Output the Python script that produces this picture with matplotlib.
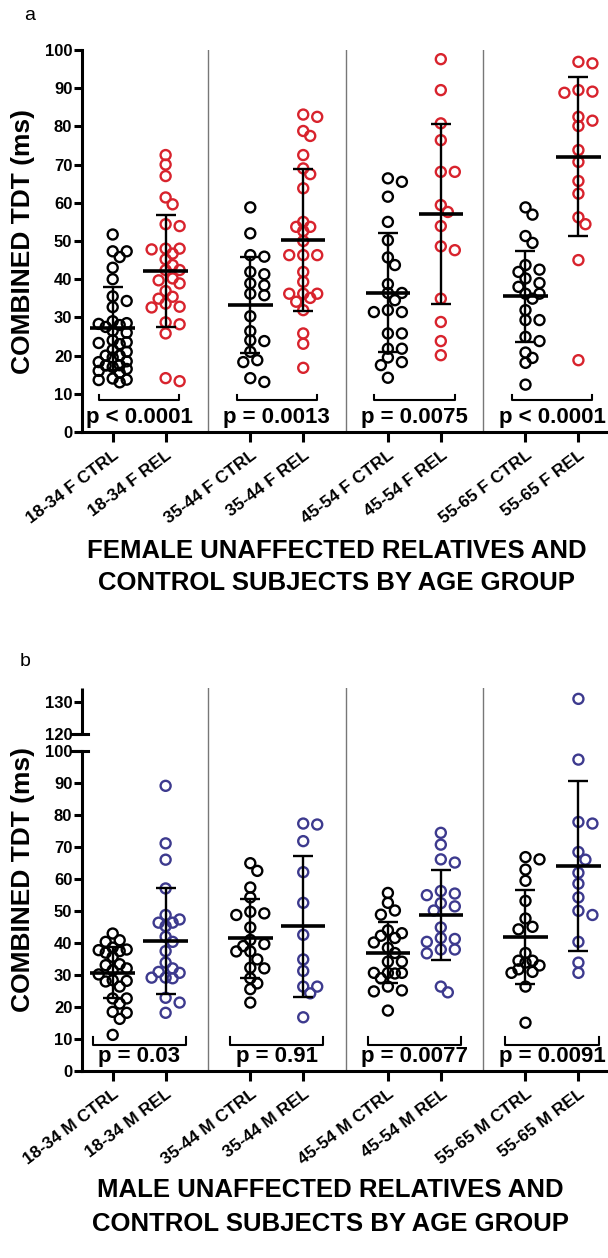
import matplotlib
matplotlib.use("Agg")
import matplotlib.pyplot as plt
import numpy as np

plt.rcParams['font.family'] = ['Liberation Sans', 'DejaVu Sans']
plt.rcParams['font.weight'] = 'bold'

# ---- data ----
female_labels = ["18-34 F CTRL", "18-34 F REL", "35-44 F CTRL", "35-44 F REL",
                 "45-54 F CTRL", "45-54 F REL", "55-65 F CTRL", "55-65 F REL"]
male_labels = ["18-34 M CTRL", "18-34 M REL", "35-44 M CTRL", "35-44 M REL",
               "45-54 M CTRL", "45-54 M REL", "55-65 M CTRL", "55-65 M REL"]

f_ctrl_18 = [51.7, 47.3, 47.3, 45.8, 43.0, 40.0, 35.5, 34.3, 32.7, 29.0, 28.5, 28.3, 28.0,
             27.5, 26.5, 26.0, 24.0, 23.5, 23.3, 23.0, 21.5, 21.0, 20.0, 20.0, 19.5, 18.5,
             18.3, 17.5, 17.4, 17.0, 16.5, 16.0, 15.5, 14.0, 13.7, 13.6, 13.0]
f_rel_18 = [72.5, 70.0, 67.0, 61.4, 59.6, 54.4, 53.9, 48.0, 47.8, 48.0, 46.7, 45.2, 43.7,
            42.4, 42.4, 40.2, 39.7, 38.9, 36.9, 35.4, 34.9, 33.6, 32.8, 32.6, 28.7, 28.2,
            25.8, 14.1, 13.3]
f_ctrl_35 = [58.8, 52.0, 46.3, 45.9, 41.9, 41.3, 38.9, 38.4, 36.2, 35.8, 30.3, 26.4, 24.0,
             23.8, 21.0, 18.8, 18.3, 14.1, 13.1]
f_rel_35 = [83.1, 82.5, 78.8, 77.5, 72.5, 69.0, 67.5, 63.8, 55.0, 53.7, 53.7, 52.6, 50.0,
            46.3, 46.3, 46.3, 41.9, 39.3, 36.2, 36.2, 36.2, 35.1, 34.1, 31.9, 25.8, 23.1, 16.8]
f_ctrl_45 = [66.4, 65.5, 61.6, 55.0, 50.2, 45.7, 43.7, 38.7, 36.4, 36.4, 34.5, 31.9, 31.4,
             31.4, 25.8, 25.8, 21.8, 21.8, 19.5, 18.3, 17.5, 14.2]
f_rel_45 = [97.6, 89.5, 80.8, 76.4, 68.1, 68.1, 59.4, 57.6, 53.9, 48.6, 47.6, 34.9, 28.8,
            23.8, 20.1]
f_ctrl_55 = [58.8, 56.9, 51.3, 49.5, 43.7, 42.5, 41.9, 40.2, 39.0, 38.0, 36.2, 36.2, 34.9,
             31.9, 29.3, 29.3, 24.9, 23.8, 20.8, 19.4, 18.1, 12.4]
f_rel_55 = [96.9, 96.5, 89.5, 89.1, 88.8, 82.5, 81.5, 80.1, 73.8, 70.7, 65.7, 62.4, 56.2,
            54.4, 45.0, 18.8]
f_means = [27.1, 42.2, 33.2, 50.2, 36.5, 57.0, 35.5, 72.1]
f_sds = [10.9, 14.7, 12.6, 18.6, 15.6, 23.6, 12.0, 20.8]
f_pvals = ["p < 0.0001", "p = 0.0013", "p = 0.0075", "p < 0.0001"]

m_ctrl_18 = [43.0, 40.9, 40.4, 38.6, 38.0, 37.8, 37.5, 37.0, 35.7, 33.4, 33.1, 32.1, 31.5,
             30.2, 28.4, 28.2, 28.0, 26.4, 22.7, 22.7, 21.1, 18.5, 18.2, 16.3, 11.3]
m_rel_18 = [89.2, 71.2, 66.1, 57.1, 48.8, 47.4, 46.4, 46.4, 45.3, 42.0, 40.4, 37.5, 33.9,
            32.1, 31.0, 30.7, 29.2, 29.2, 29.0, 22.9, 21.4, 18.2]
m_ctrl_35 = [65.0, 62.6, 57.4, 54.3, 49.8, 49.3, 48.8, 44.9, 41.0, 39.7, 39.1, 37.4, 37.4,
             34.9, 32.3, 32.1, 29.0, 27.4, 25.6, 21.4]
m_rel_35 = [77.4, 77.1, 71.9, 62.2, 52.6, 42.6, 34.9, 31.3, 26.4, 26.4, 24.3, 16.8]
m_ctrl_45 = [55.7, 52.6, 50.2, 48.9, 44.0, 43.1, 42.3, 41.6, 40.2, 38.5, 36.9, 34.2, 34.2,
             30.7, 30.7, 30.7, 30.5, 29.0, 26.4, 25.2, 24.9, 18.9]
m_rel_45 = [74.5, 70.8, 66.2, 65.2, 56.3, 55.5, 55.0, 52.5, 51.5, 50.2, 44.9, 41.6, 41.3,
            40.4, 38.0, 38.0, 36.8, 26.4, 24.6]
m_ctrl_55 = [66.9, 66.2, 63.0, 59.5, 53.2, 47.7, 45.1, 44.3, 36.9, 34.5, 34.5, 33.9, 33.0,
             31.8, 31.0, 30.7, 26.4, 15.1]
m_rel_55 = [131.1, 97.4, 77.9, 77.4, 68.5, 66.1, 62.0, 58.6, 54.3, 50.1, 48.8, 40.4, 33.9,
            30.7]
m_means = [30.8, 40.7, 41.5, 45.3, 37.0, 48.8, 42.0, 64.1]
m_sds = [8.1, 16.6, 12.3, 22.1, 9.6, 14.0, 14.7, 26.5]
m_pvals = ["p = 0.03", "p = 0.91", "p = 0.0077", "p = 0.0091"]

female_groups = [f_ctrl_18, f_rel_18, f_ctrl_35, f_rel_35, f_ctrl_45, f_rel_45, f_ctrl_55, f_rel_55]
male_groups = [m_ctrl_18, m_rel_18, m_ctrl_35, m_rel_35, m_ctrl_45, m_rel_45, m_ctrl_55, m_rel_55]

RED = '#d8232d'
BLUE = '#3d3a8e'
W, H = 608, 1258
pos = np.array([0, 1, 2.6, 3.6, 5.2, 6.2, 7.8, 8.8])


def swarm(ax, vals, x0, dmin=8.5, step=7.0, maxk=2):
    # greedy beeswarm in pixel space, limited to a few columns either side
    tr = ax.transData
    placed = []
    out = np.zeros(len(vals))
    px0 = tr.transform((x0, 0))[0]
    order = np.argsort(vals)[::-1]
    cands = [0]
    for k in range(1, maxk + 1):
        cands += [k * step, -k * step]
    for i in order:
        py = tr.transform((x0, vals[i]))[1]
        best, bestd = 0, -1
        for off in cands:
            d = min([np.hypot(px0 + off - qx, py - qy) for qx, qy in placed] or [99])
            if d >= dmin:
                best = off
                break
            if d > bestd:
                best, bestd = off, d
        placed.append((px0 + best, py))
        out[i] = tr.inverted().transform((px0 + best, py))[0]
    return out


def fwd(y):
    y = np.asarray(y, float)
    return np.where(y <= 100, y, np.where(y >= 120, y - 14.7, 100 + (y - 100) * 0.265))


def inv(t):
    t = np.asarray(t, float)
    return np.where(t <= 100, t, np.where(t >= 105.3, t + 14.7, 100 + (t - 100) / 0.265))


def panel(ax, groups, means, sds, pvals, labels, color, ytop, brk_y, p_y, hw):
    ax.set_xlim(-0.58, 9.34)
    ax.set_ylim(0, ytop)
    for s in ['top', 'right']:
        ax.spines[s].set_visible(False)
    for s in ['left', 'bottom']:
        ax.spines[s].set_linewidth(2.2)
    for sep in [(pos[1] + pos[2]) / 2, (pos[3] + pos[4]) / 2, (pos[5] + pos[6]) / 2]:
        ax.plot([sep, sep], [0, ytop], color='#777777', lw=1.0, zorder=1)
    for i, vals in enumerate(groups):
        c = 'black' if i % 2 == 0 else color
        xs = swarm(ax, vals, pos[i])
        ax.scatter(xs, vals, s=52, facecolors='none', edgecolors=c, linewidths=1.7, zorder=2,
                   clip_on=False)
    ax.errorbar(pos, means, yerr=sds, fmt='none', ecolor='black', elinewidth=1.7,
                capsize=7, capthick=1.7, zorder=4)
    ax.hlines(means, pos - 0.42, pos + 0.42, colors='black', lw=2.6, zorder=4)
    for j, p in enumerate(pvals):
        cx = (pos[2 * j] + pos[2 * j + 1]) / 2
        ax.plot([cx - hw, cx - hw, cx + hw, cx + hw],
                [brk_y[1], brk_y[0], brk_y[0], brk_y[1]], color='black', lw=1.5)
        ax.text(cx, p_y, p, ha='center', va='center', fontsize=16, fontweight='bold')
    ax.set_xticks(pos)
    ax.set_xticklabels(labels, rotation=37, ha='right', va='top', rotation_mode='anchor',
                       fontsize=12.5, fontweight='bold')
    ax.tick_params(axis='x', length=7, width=2.2, pad=4)
    ax.tick_params(axis='y', length=6, width=2.2, labelsize=12, pad=1)
    for t in ax.get_yticklabels():
        t.set_fontweight('bold')


fig = plt.figure(figsize=(W / 100, H / 100), dpi=100)

ax_a = fig.add_axes([82 / W, 1 - 432 / H, (607 - 82) / W, (432 - 50) / H])
ax_a.set_yticks(range(0, 101, 10))
panel(ax_a, female_groups, f_means, f_sds, f_pvals, female_labels, RED, 100, (8.3, 9.7), 3.9, 0.76)

ax_b = fig.add_axes([82 / W, 1 - 1071 / H, (607 - 82) / W, (1071 - 688) / H])
ax_b.set_yscale('function', functions=(fwd, inv))
ax_b.set_yticks(list(range(0, 101, 10)) + [120, 130])
ax_b.set_ylim(0, 134.5)
panel(ax_b, male_groups, m_means, m_sds, m_pvals, male_labels, BLUE, 134.5, (8.1, 10.6), 4.4, 0.88)
ax_b.set_ylim(0, 134.5)
# broken y axis
ax_b.spines['left'].set_bounds(0, 100)
yt = ax_b.get_yaxis_transform()
ax_b.plot([0, 0], [120, 134.5], transform=yt, color='black', lw=2.2, clip_on=False,
          solid_capstyle='butt')
for yb in (100, 120):
    ax_b.plot([-0.019, 0.012], [yb, yb], transform=yt, color='black', lw=2.2, clip_on=False)

# axis titles and labels
fig.text(23 / W, 1 - 241 / H, "COMBINED TDT (ms)", rotation=90, ha='center', va='center',
         fontsize=19, fontweight='bold')
fig.text(23 / W, 1 - 880 / H, "COMBINED TDT (ms)", rotation=90, ha='center', va='center',
         fontsize=19, fontweight='bold')
fig.text(337 / W, 1 - 567 / H, "FEMALE UNAFFECTED RELATIVES AND\nCONTROL SUBJECTS BY AGE GROUP",
         ha='center', va='center', fontsize=18.5, fontweight='bold', linespacing=1.4)
fig.text(330 / W, 1 - 1207 / H, "MALE UNAFFECTED RELATIVES AND\nCONTROL SUBJECTS BY AGE GROUP",
         ha='center', va='center', fontsize=18.5, fontweight='bold', linespacing=1.5)
fig.text(30 / W, 1 - 15 / H, "a", ha='center', va='center', fontsize=14, fontweight='normal')
fig.text(25 / W, 1 - 662 / H, "b", ha='center', va='center', fontsize=14, fontweight='normal')

fig.savefig("out.png", dpi=100)
